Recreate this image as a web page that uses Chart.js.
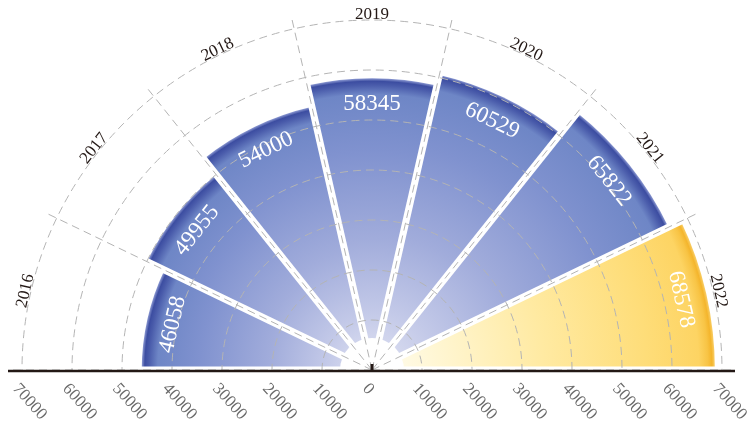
<!DOCTYPE html>
<html>
<head>
<meta charset="utf-8">
<script src="https://cdn.jsdelivr.net/npm/chart.js@4.4.1/dist/chart.umd.min.js"></script>
<style>
  html, body { margin: 0; padding: 0; background: #fff; }
  #wrap { width: 754px; height: 426px; overflow: hidden; position: relative; }
  #chart { display: block; }
</style>
</head>
<body>
<div id="wrap"><canvas id="chart" width="754" height="732"></canvas></div>
<script>
const years = ['2016', '2017', '2018', '2019', '2020', '2021', '2022'];
const values = [46058, 49955, 54000, 58345, 60529, 65822, 68578];
const tickValues = [0, 10000, 20000, 30000, 40000, 50000, 60000, 70000];
const axisMax = 72400;
const highlightYear = '2022';

const serif = '"Liberation Serif", "Times New Roman", serif';

// colour stops, t is a fraction of the sector radius R
function blueStops(R) {
    return [
        [0, '#e2e4f3'],
        [0.2, '#c3c9e8'],
        [0.45, '#a1acdb'],
        [0.75, '#8092cf'],
        [1 - 16 / R, '#6e86c6'],
        [1 - 7 / R, '#4a5cab'],
        [1 - 3 / R, '#3c4da1'],
        [1, '#8e9bd3']
    ];
}

function goldStops(R) {
    return [
        [0, '#fffdf2'],
        [0.2, '#fff6d2'],
        [0.5, '#ffeaa2'],
        [0.8, '#fedd79'],
        [1 - 16 / R, '#fdd463'],
        [1 - 7 / R, '#f8c445'],
        [1 - 3 / R, '#f4b52c'],
        [1, '#f9cf6a']
    ];
}

function sectorFill(context) {
    const chart = context.chart;
    const r = chart.scales.r;
    if (context.type !== 'data' || !r || r.xCenter === undefined) return '#7088c7';
    const outer = r.getDistanceFromCenterForValue(context.raw);
    const stops = years[context.dataIndex] === highlightYear ? goldStops : blueStops;
    const g = chart.ctx.createRadialGradient(r.xCenter, r.yCenter, 0, r.xCenter, r.yCenter, outer);
    stops(outer).forEach(([t, c]) => g.addColorStop(Math.max(0, Math.min(1, t)), c));
    return g;
}

function tangentText(ctx, r, angle, dist, text) {
    ctx.save();
    ctx.translate(r.xCenter + Math.cos(angle) * dist, r.yCenter + Math.sin(angle) * dist);
    ctx.rotate(angle + Math.PI / 2);
    ctx.fillText(text, 0, 0);
    ctx.restore();
}

const halfRose = {
    id: 'halfRose',
    beforeDraw(chart) {
        const ctx = chart.ctx;
        const r = chart.scales.r;
        ctx.save();
        ctx.beginPath();
        ctx.rect(0, 0, chart.width, r.yCenter);
        ctx.clip();
    },
    afterDatasetsDraw(chart) {
        const ctx = chart.ctx;
        const r = chart.scales.r;
        ctx.save();
        // white gaps between the sectors
        ctx.strokeStyle = '#fff';
        ctx.lineWidth = 7;
        for (let i = 0; i <= years.length; i++) {
            const p = r.getPointPosition(i, r.drawingArea);
            ctx.beginPath();
            ctx.moveTo(r.xCenter, r.yCenter);
            ctx.lineTo(p.x, p.y);
            ctx.stroke();
        }
        ctx.fillStyle = '#fff';
        ctx.beginPath();
        ctx.arc(r.xCenter, r.yCenter, 32, 0, Math.PI * 2);
        ctx.fill();
        ctx.restore();
    },
    afterDraw(chart) {
        const ctx = chart.ctx;
        const r = chart.scales.r;
        ctx.restore();

        const meta = chart.getDatasetMeta(0);
        const ringR = r.getDistanceFromCenterForValue(tickValues[tickValues.length - 1]);

        ctx.save();
        ctx.textAlign = 'center';
        ctx.textBaseline = 'alphabetic';
        meta.data.forEach((arc, i) => {
            const mid = (arc.startAngle + arc.endAngle) / 2;
            ctx.fillStyle = '#ffffff';
            ctx.font = '23px ' + serif;
            tangentText(ctx, r, mid, arc.outerRadius - 32, String(values[i]));
            ctx.fillStyle = '#231815';
            ctx.font = '17px ' + serif;
            tangentText(ctx, r, mid, ringR + 1, years[i]);
        });

        // baseline and centre tick
        ctx.strokeStyle = '#231815';
        ctx.lineWidth = 2.5;
        ctx.beginPath();
        ctx.moveTo(r.xCenter - r.drawingArea - 2, r.yCenter + 1);
        ctx.lineTo(r.xCenter + r.drawingArea + 1, r.yCenter + 1);
        ctx.stroke();
        ctx.fillStyle = '#231815';
        ctx.fillRect(r.xCenter - 1.5, r.yCenter - 6, 3, 6);

        // value axis along the baseline
        ctx.fillStyle = '#6a6a6a';
        ctx.font = '17px ' + serif;
        ctx.textAlign = 'left';
        tickValues.forEach(v => {
            const d = r.getDistanceFromCenterForValue(v);
            const xs = v === 0 ? [r.xCenter] : [r.xCenter - d, r.xCenter + d];
            xs.forEach(x => {
                ctx.save();
                ctx.translate(x - 10, r.yCenter + 19);
                ctx.rotate(48 * Math.PI / 180);
                ctx.fillText(String(v), 0, 0);
                ctx.restore();
            });
        });
        ctx.restore();
    }
};

const ctx = document.getElementById('chart').getContext('2d');

const chart = new Chart(ctx, {
    type: 'polarArea',
    data: {
        labels: years.concat(years.map(() => '')),
        datasets: [{
            label: 'value',
            data: values,
            angle: 180 / years.length,
            backgroundColor: sectorFill,
            borderWidth: 0
        }]
    },
    options: {
        responsive: false,
        animation: false,
        layout: {
            padding: { left: 10, right: 20, top: 8, bottom: 0 }
        },
        plugins: {
            legend: { display: false },
            tooltip: { enabled: false }
        },
        scales: {
            r: {
                min: 0,
                max: axisMax,
                bounds: 'data',
                startAngle: -90,
                afterBuildTicks: (scale) => {
                    scale.ticks = tickValues.map(v => ({ value: v }));
                },
                ticks: { display: false },
                pointLabels: { display: false },
                grid: {
                    circular: true,
                    color: '#b4b4b4',
                    lineWidth: 1,
                    z: 1
                },
                border: { dash: [8, 5] },
                angleLines: {
                    display: true,
                    color: '#b4b4b4',
                    lineWidth: 1,
                    borderDash: [8, 5]
                }
            }
        }
    },
    plugins: [halfRose]
});
</script>
</body>
</html>
